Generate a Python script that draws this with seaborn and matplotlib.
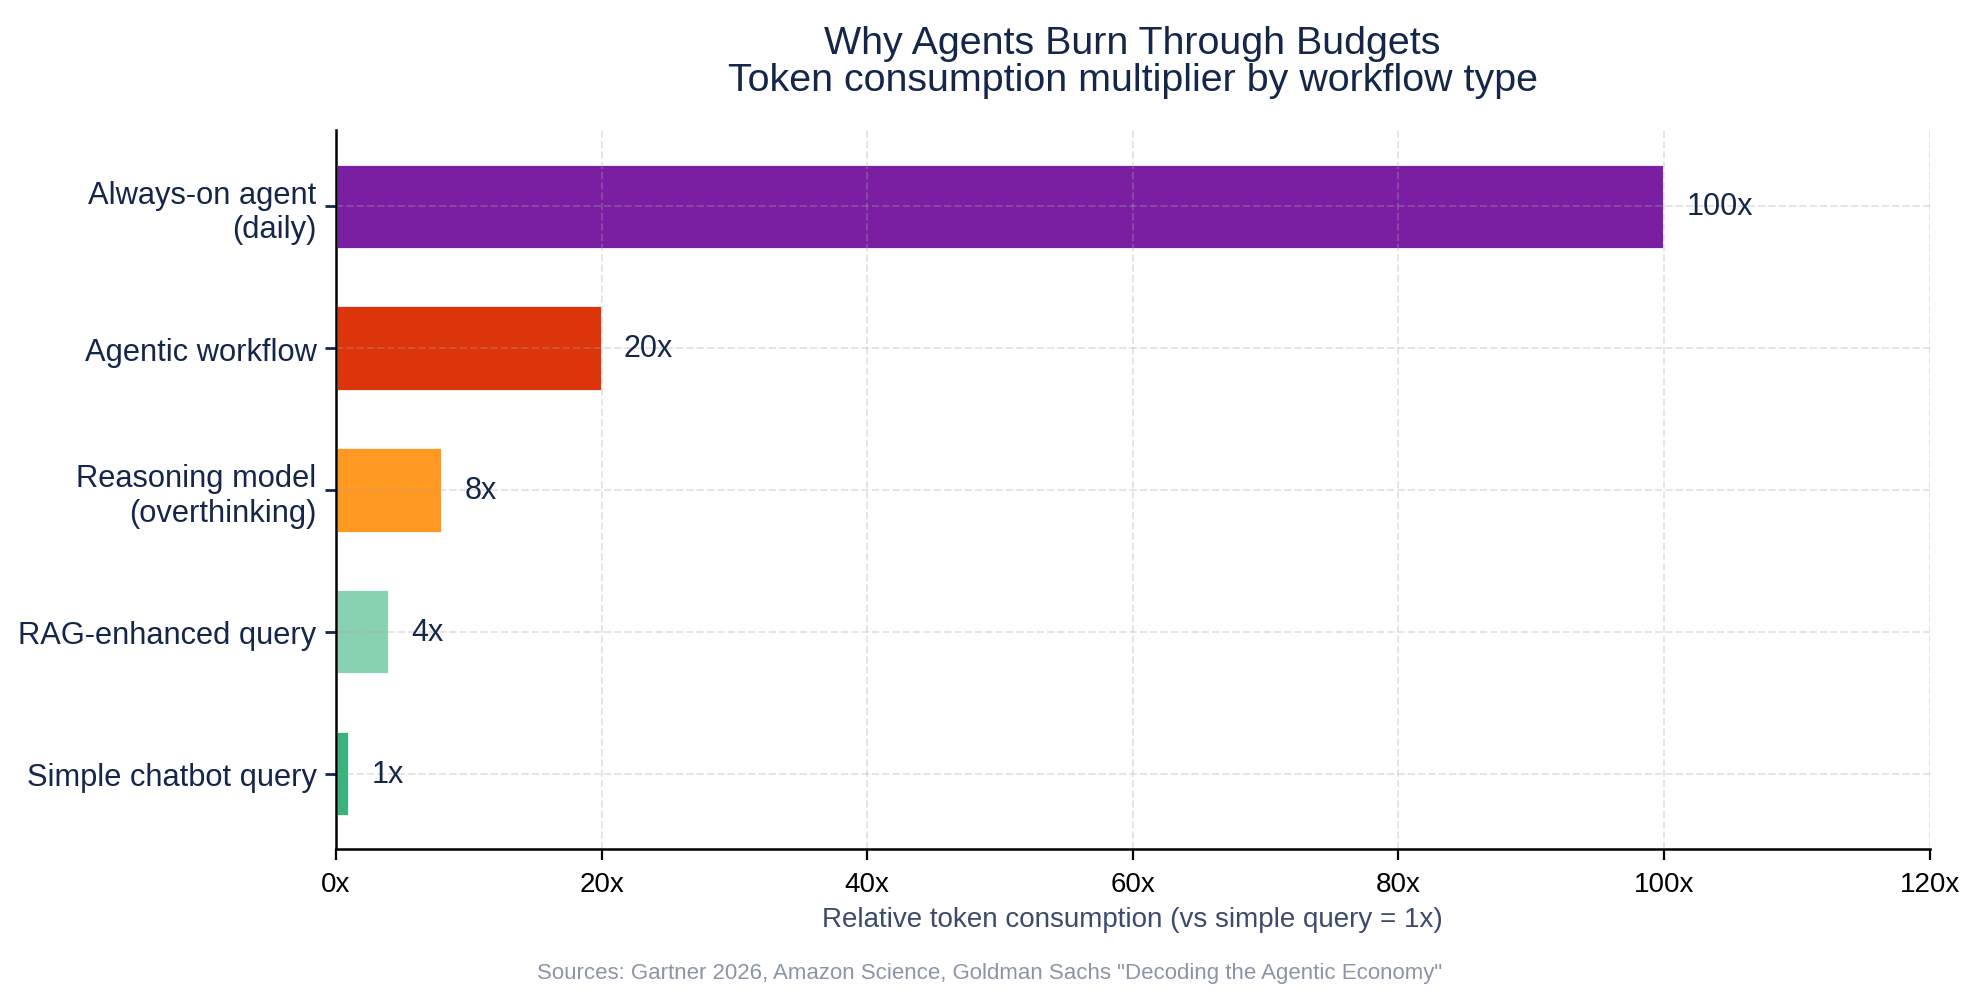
import matplotlib
matplotlib.use("Agg")
import matplotlib.pyplot as plt
import seaborn as sns
import pandas as pd
from matplotlib.ticker import FuncFormatter

workflows = [
    "Always-on agent\n(daily)",
    "Agentic workflow",
    "Reasoning model\n(overthinking)",
    "RAG-enhanced query",
    "Simple chatbot query",
]
multipliers = [100, 20, 8, 4, 1]
bar_colors = ["#7B1FA2", "#DD350B", "#FF9922", "#88D1B1", "#3BB27B"]
x_ticks = [0, 20, 40, 60, 80, 100, 120]

NAVY = "#14264A"

sns.set_theme(style="white")
plt.rcParams["font.family"] = ["Liberation Sans", "DejaVu Sans"]

df = pd.DataFrame({"workflow": workflows, "multiplier": multipliers})

fig = plt.figure(figsize=(9.9, 5.02), dpi=200)
ax = fig.add_axes([0.1697, 0.1534, 0.8048, 0.7166])

sns.barplot(data=df, x="multiplier", y="workflow", hue="workflow",
            palette=bar_colors, width=0.6, legend=False, ax=ax,
            saturation=1)

ax.set_xlim(0, 120)
ax.set_ylim(4.53, -0.54)
ax.set_xticks(x_ticks)
ax.xaxis.set_major_formatter(FuncFormatter(lambda v, p: f"{v:.0f}x"))
# dashed grid sits on top of the bars, kept faint
ax.grid(True, color="#A8A8A8", linestyle="--", linewidth=0.7, alpha=0.3)
ax.set_axisbelow(False)

for sp in ["top", "right"]:
    ax.spines[sp].set_visible(False)
for sp in ["left", "bottom"]:
    ax.spines[sp].set_color("black")
    ax.spines[sp].set_linewidth(0.9)
    ax.spines[sp].set_zorder(4)

ax.tick_params(axis="y", left=True, length=4, width=1, color=NAVY,
               labelsize=11.1, labelcolor=NAVY, pad=3)
ax.tick_params(axis="x", bottom=True, length=4, width=0.8, color="black",
               labelsize=10, labelcolor="black", pad=4)

for i, v in enumerate(multipliers):
    ax.annotate(f"{v}x", xy=(v, i), xytext=(8, 0), textcoords="offset points",
                va="center", ha="left", fontsize=11, color=NAVY)

ax.set_ylabel("")
ax.set_xlabel("Relative token consumption (vs simple query = 1x)",
              fontsize=10, color="#3D4B6B", labelpad=3.3)

fig.text(0.572, 0.956, "Why Agents Burn Through Budgets",
         ha="center", va="center", fontsize=14.2, color=NAVY)
fig.text(0.572, 0.919, "Token consumption multiplier by workflow type",
         ha="center", va="center", fontsize=14.2, color=NAVY)
fig.text(0.5, 0.030,
         'Sources: Gartner 2026, Amazon Science, Goldman Sachs "Decoding the Agentic Economy"',
         ha="center", va="center", fontsize=8, color="#8C95A6")

fig.savefig("out.png", dpi=200)
